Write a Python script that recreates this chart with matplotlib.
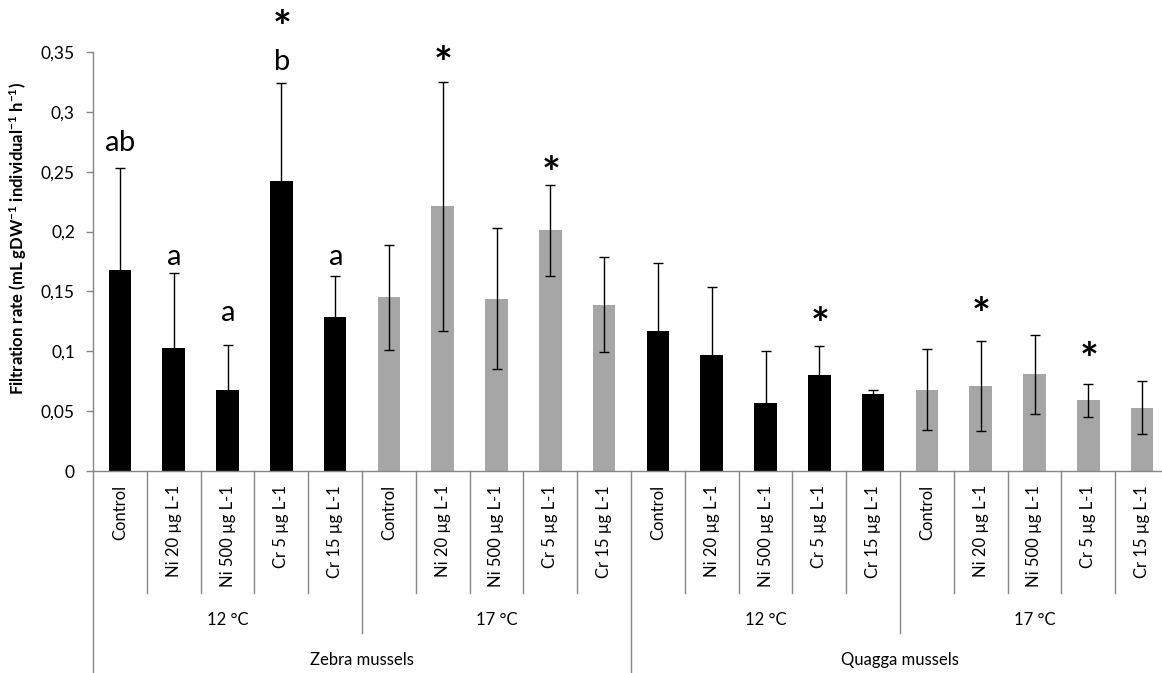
import numpy as np
import matplotlib.pyplot as plt
from matplotlib.transforms import blended_transform_factory

# Filtration rate per treatment (mean and SD)
species = ["Zebra mussels", "Quagga mussels"]
temperatures = ["12 °C", "17 °C"]
treatments = ["Control", "Ni 20 µg L-1", "Ni 500 µg L-1", "Cr 5 µg L-1", "Cr 15 µg L-1"]

means = [0.168, 0.103, 0.068, 0.242, 0.129,
         0.145, 0.221, 0.144, 0.201, 0.139,
         0.117, 0.097, 0.057, 0.080, 0.064,
         0.068, 0.071, 0.081, 0.059, 0.053]
sds = [0.085, 0.062, 0.037, 0.082, 0.034,
       0.044, 0.104, 0.059, 0.038, 0.040,
       0.057, 0.057, 0.043, 0.024, 0.004,
       0.034, 0.038, 0.033, 0.014, 0.022]

# significance letters / asterisks: (bar index, text, height)
letters = [(0, "ab", 0.274), (1, "a", 0.179), (2, "a", 0.132),
           (3, "b", 0.342), (4, "a", 0.179)]
stars = [(3, 0.380), (6, 0.350), (8, 0.258), (13, 0.132), (16, 0.140), (18, 0.1025)]

yticks = [0, 0.05, 0.1, 0.15, 0.2, 0.25, 0.3, 0.35]
ytick_labels = ["0", "0,05", "0,1", "0,15", "0,2", "0,25", "0,3", "0,35"]

plt.rcParams['font.family'] = ['Lato', 'DejaVu Sans']
plt.rcParams['mathtext.fontset'] = 'custom'
plt.rcParams['mathtext.rm'] = 'Lato'
plt.rcParams['mathtext.bf'] = 'Lato:bold'

n_per_group = len(treatments)
n_groups = len(species) * len(temperatures)
x = np.arange(n_groups * n_per_group)
colors = []
for g in range(n_groups):
    colors += ['#000000' if g % 2 == 0 else '#a6a6a6'] * n_per_group

W, H = 1162, 673
fig = plt.figure(figsize=(W / 100, H / 100), dpi=100)
# axes extends slightly past the right edge, as in the original crop
ax = fig.add_axes([93 / W, 1 - 471 / H, 1076 / W, 419 / H])

ax.bar(x, means, width=0.42, color=colors, zorder=2)
ax.errorbar(x, means, yerr=sds, fmt='none', ecolor='black', elinewidth=1,
            capsize=3.5, capthick=1, zorder=3)

ax.set_xlim(-0.5, len(x) - 0.5)
ax.set_ylim(0, 0.35)
ax.set_yticks(yticks)
ax.set_yticklabels(ytick_labels, fontsize=12.5)
ax.tick_params(axis='y', color='#868686', length=5, width=1, pad=8)

ax.set_xticks(x)
ax.set_xticklabels(treatments * n_groups, rotation=90, fontsize=12, va='top')
ax.tick_params(axis='x', length=0, pad=10)

for side in ['top', 'right']:
    ax.spines[side].set_visible(False)
for side in ['left', 'bottom']:
    ax.spines[side].set_color('#868686')
    ax.spines[side].set_linewidth(1)

ax.set_ylabel(r"Filtration rate (mL gDW$\mathbf{^{-1}}$ individual$\mathbf{^{-1}}$ h$\mathbf{^{-1}}$)",
              fontsize=12, fontweight='bold')
ax.yaxis.set_label_coords(-0.0595, 0.556)

# multi-level category axis
trans = blended_transform_factory(ax.transData, ax.transAxes)
for b in range(len(x) + 1):
    xb = b - 0.5
    if b % (2 * n_per_group) == 0:
        y_end = -0.482
    elif b % n_per_group == 0:
        y_end = -0.387
    else:
        y_end = -0.291
    ax.plot([xb, xb], [0, y_end], transform=trans, color='#868686', lw=1,
            clip_on=False, zorder=1)

for g in range(n_groups):
    xc = g * n_per_group + (n_per_group - 1) / 2
    ax.text(xc, -0.356, temperatures[g % 2], transform=trans, ha='center',
            va='center', fontsize=12)
for s in range(len(species)):
    xc = s * 2 * n_per_group + (2 * n_per_group - 1) / 2
    ax.text(xc, -0.451, species[s], transform=trans, ha='center',
            va='center', fontsize=12)

# annotations (mathtext keeps the boxes tight, so the stacked "*" and "b" don't collide)
for i, txt, yv in letters:
    ax.text(x[i], yv, r"$\mathrm{%s}$" % txt, ha='center', va='center',
            fontsize=21, clip_on=False)
# mathtext box sits a little above the glyph, nudge down
for i, yv in stars:
    ax.annotate(r"$\mathbf{*}$", (x[i], yv), xytext=(0, -8),
                textcoords='offset points', ha='center', va='center',
                fontsize=32, annotation_clip=False)

plt.savefig('out.png', dpi=100)
